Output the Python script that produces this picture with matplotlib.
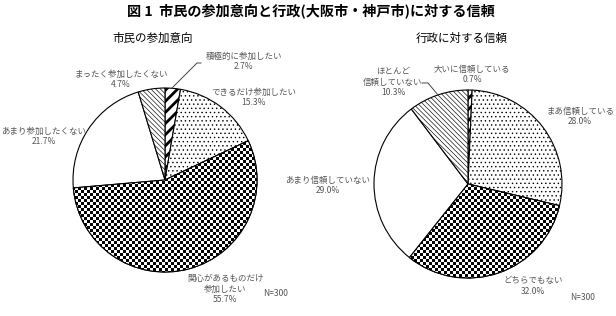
import numpy as np
import matplotlib
matplotlib.use("Agg")
import matplotlib.pyplot as plt
from matplotlib.patches import Wedge

plt.rcParams['font.family'] = ['Noto Sans CJK JP', 'DejaVu Sans']

# 市民の参加意向 (clockwise from 12 o'clock)
left_labels = ["積極的に参加したい", "できるだけ参加したい", "関心があるものだけ\n参加したい",
               "あまり参加したくない", "まったく参加したくない"]
left_values = [2.7, 15.3, 55.7, 21.7, 4.7]

# 行政に対する信頼
right_labels = ["大いに信頼している", "まあ信頼している", "どちらでもない",
                "あまり信頼していない", "ほとんど\n信頼していない"]
right_values = [0.7, 28.0, 32.0, 29.0, 10.3]

W, H = 616, 316
fig = plt.figure(figsize=(W / 100, H / 100), dpi=100)
ax = fig.add_axes([0, 0, 1, 1])
ax.set_xlim(0, W)
ax.set_ylim(0, H)
ax.set_aspect('equal')
ax.axis('off')


def Y(y):
    return H - y


# checkerboard image for the biggest slices
cell = 3
ny, nx = H // cell + 2, W // cell + 2
checker = (np.indices((ny, nx)).sum(axis=0) % 2).astype(float)

styles = {
    "bold": dict(hatch='///', hlw=2.0),
    "dots": dict(hatch='....', hlw=0.5),
    "checker": dict(hatch=None, hlw=0.5),
    "white": dict(hatch=None, hlw=0.5),
    "back": dict(hatch='\\\\\\\\\\\\\\', hlw=0.45),
}
order = ["bold", "dots", "checker", "white", "back"]


def draw_pie(values, cx, cy, r):
    wedges, _ = ax.pie(values, center=(cx, Y(cy)), radius=r, startangle=90,
                       counterclock=False, normalize=True,
                       wedgeprops=dict(edgecolor='black', linewidth=0.8))
    for w, key in zip(wedges, order):
        st = styles[key]
        w.set_facecolor('white')
        if st['hatch']:
            w.set_hatch(st['hatch'])
            try:
                w.set_hatch_linewidth(st['hlw'])
            except AttributeError:
                pass
        if key == "checker":
            im = ax.imshow(checker, cmap='gray', extent=(0, nx * cell, 0, ny * cell),
                           interpolation='nearest', zorder=w.get_zorder() + 0.1)
            im.set_clip_path(w)
            ax.add_patch(Wedge(w.center, w.r, w.theta1, w.theta2, fill=False,
                               edgecolor='black', linewidth=0.8,
                               zorder=w.get_zorder() + 0.2))
    ax.set_xlim(0, W)
    ax.set_ylim(0, H)


draw_pie(left_values, 165, 180, 92)
draw_pie(right_values, 468, 184, 94)

tc = '#555555'
fs = 6.1


def label(x, y, txt):
    ax.text(x, Y(y), txt, ha='center', va='center', fontsize=fs, color=tc,
            linespacing=1.15)


# left labels
left_pos = [(244, 61), (254, 97), (225, 289), (44, 136), (121, 79)]
for (x, y), name, v in zip(left_pos, left_labels, left_values):
    label(x, y, f"{name}\n{v:.1f}%")
ax.plot([201, 197, 172], [Y(63), Y(63), Y(88)], color='#444444', lw=0.7)

# right labels
right_pos = [(472, 74), (580, 116), (533, 286), (328, 185), (393, 82)]
for (x, y), name, v in zip(right_pos, right_labels, right_values):
    label(x, y, f"{name}\n{v:.1f}%")
ax.plot([422, 428, 438], [Y(83), Y(83), Y(95)], color='#444444', lw=0.7)

ax.text(276, Y(293), "N=300", ha='center', va='center', fontsize=fs, color=tc)
ax.text(583, Y(297), "N=300", ha='center', va='center', fontsize=fs, color=tc)

ax.text(311, Y(12), "図 1  市民の参加意向と行政(大阪市・神戸市)に対する信頼",
        ha='center', va='center', fontsize=10.2, fontweight='bold')
ax.text(153, Y(38), "市民の参加意向", ha='center', va='center', fontsize=8.3)
ax.text(462, Y(38), "行政に対する信頼", ha='center', va='center', fontsize=8.3)

fig.savefig("out.png", dpi=100)
